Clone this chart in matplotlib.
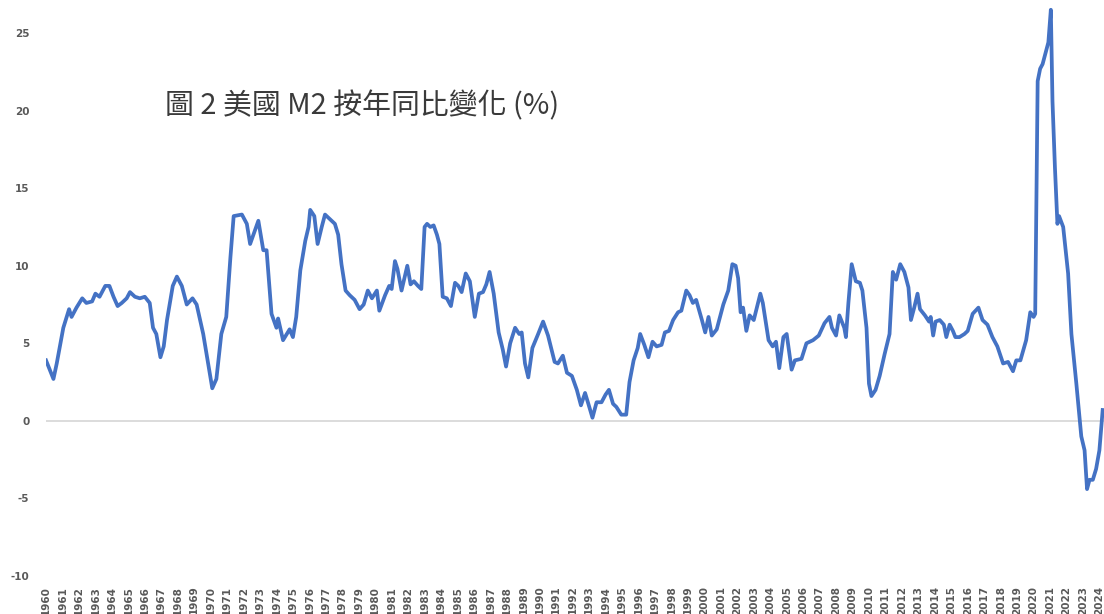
import matplotlib.pyplot as plt
import numpy as np

# US M2 year-on-year change (%)
years = [1960.0, 1960.45, 1960.65, 1961.05, 1961.4, 1961.55, 1961.85, 1962.2, 1962.45, 1962.8,
         1963.0, 1963.25, 1963.6, 1963.85, 1964.1, 1964.35, 1964.6, 1964.9, 1965.1, 1965.4,
         1965.7, 1966.0, 1966.3, 1966.5, 1966.7, 1966.95, 1967.15, 1967.35, 1967.7, 1967.95,
         1968.25, 1968.55, 1968.9, 1969.15, 1969.55, 1969.85, 1970.1, 1970.35, 1970.65, 1970.95,
         1971.2, 1971.4, 1971.9, 1972.2, 1972.4, 1972.9, 1973.2, 1973.4, 1973.7, 1974.0,
         1974.1, 1974.4, 1974.8, 1975.0, 1975.2, 1975.45, 1975.75, 1975.95, 1976.05, 1976.3,
         1976.5, 1976.75, 1976.95, 1977.25, 1977.55, 1977.75, 1977.95, 1978.2, 1978.45, 1978.75,
         1979.05, 1979.3, 1979.55, 1979.8, 1980.1, 1980.25, 1980.6, 1980.85, 1981.0, 1981.2,
         1981.35, 1981.6, 1981.95, 1982.15, 1982.35, 1982.6, 1982.8, 1983.0, 1983.15, 1983.35,
         1983.55, 1983.75, 1983.9, 1984.1, 1984.35, 1984.6, 1984.85, 1985.05, 1985.25, 1985.5,
         1985.75, 1986.05, 1986.3, 1986.55, 1986.75, 1986.95, 1987.2, 1987.5, 1987.75, 1987.95,
         1988.2, 1988.5, 1988.75, 1988.9, 1989.1, 1989.3, 1989.55, 1989.9, 1990.2, 1990.5,
         1990.9, 1991.1, 1991.4, 1991.65, 1991.95, 1992.25, 1992.5, 1992.75, 1992.95, 1993.2,
         1993.45, 1993.75, 1994.0, 1994.2, 1994.45, 1994.65, 1994.95, 1995.25, 1995.45, 1995.7,
         1995.95, 1996.1, 1996.35, 1996.6, 1996.85, 1997.1, 1997.4, 1997.6, 1997.85, 1998.1,
         1998.4, 1998.6, 1998.9, 1999.1, 1999.3, 1999.5, 1999.85, 2000.05, 2000.25, 2000.45,
         2000.75, 2001.15, 2001.45, 2001.7, 2001.9, 2002.05, 2002.2, 2002.35, 2002.55, 2002.75,
         2003.0, 2003.4, 2003.55, 2003.9, 2004.15, 2004.35, 2004.55, 2004.8, 2005.0, 2005.3,
         2005.5, 2005.9, 2006.2, 2006.6, 2006.95, 2007.3, 2007.6, 2007.75, 2008.0, 2008.2,
         2008.5, 2008.6, 2008.75, 2008.95, 2009.2, 2009.45, 2009.6, 2009.85, 2010.0, 2010.15,
         2010.4, 2010.65, 2010.95, 2011.25, 2011.45, 2011.65, 2011.9, 2012.15, 2012.4, 2012.55,
         2012.75, 2012.95, 2013.1, 2013.4, 2013.65, 2013.75, 2013.9, 2014.05, 2014.3, 2014.55,
         2014.7, 2014.9, 2015.1, 2015.25, 2015.5, 2015.8, 2016.0, 2016.3, 2016.65, 2016.9,
         2017.2, 2017.5, 2017.8, 2018.15, 2018.45, 2018.75, 2018.95, 2019.2, 2019.55, 2019.8,
         2020.0, 2020.1, 2020.25, 2020.4, 2020.55, 2020.7, 2020.9, 2021.05, 2021.15, 2021.3,
         2021.45, 2021.55, 2021.8, 2022.1, 2022.3, 2022.6, 2022.9, 2023.1, 2023.25, 2023.4,
         2023.6, 2023.8, 2024.0, 2024.2]
m2_yoy = [3.9, 2.7, 3.7, 6.0, 7.2, 6.7, 7.3, 7.9, 7.6, 7.7,
          8.2, 8.0, 8.7, 8.7, 8.0, 7.4, 7.6, 7.9, 8.3, 8.0,
          7.9, 8.0, 7.6, 6.0, 5.6, 4.1, 4.8, 6.5, 8.7, 9.3,
          8.7, 7.5, 7.9, 7.5, 5.6, 3.7, 2.1, 2.7, 5.6, 6.7,
          10.5, 13.2, 13.3, 12.7, 11.4, 12.9, 11.0, 11.0, 6.9, 6.0,
          6.6, 5.2, 5.9, 5.4, 6.7, 9.7, 11.6, 12.5, 13.6, 13.2,
          11.4, 12.5, 13.3, 13.0, 12.7, 12.0, 10.1, 8.4, 8.1, 7.8,
          7.2, 7.5, 8.4, 7.9, 8.4, 7.1, 8.1, 8.7, 8.5, 10.3,
          9.8, 8.4, 10.0, 8.8, 9.0, 8.7, 8.5, 12.5, 12.7, 12.5,
          12.6, 12.0, 11.4, 8.0, 7.9, 7.4, 8.9, 8.7, 8.3, 9.5,
          9.0, 6.7, 8.2, 8.3, 8.8, 9.6, 8.2, 5.7, 4.6, 3.5,
          5.0, 6.0, 5.6, 5.7, 3.7, 2.8, 4.7, 5.6, 6.4, 5.5,
          3.8, 3.7, 4.2, 3.1, 2.9, 2.0, 1.0, 1.8, 1.1, 0.2,
          1.2, 1.2, 1.7, 2.0, 1.1, 0.9, 0.4, 0.4, 2.5, 3.9,
          4.7, 5.6, 4.9, 4.1, 5.1, 4.8, 4.9, 5.7, 5.8, 6.5,
          7.0, 7.1, 8.4, 8.1, 7.6, 7.8, 6.5, 5.7, 6.7, 5.5,
          5.9, 7.5, 8.4, 10.1, 10.0, 9.2, 7.0, 7.3, 5.8, 6.8,
          6.5, 8.2, 7.6, 5.2, 4.8, 5.1, 3.4, 5.4, 5.6, 3.3,
          3.9, 4.0, 5.0, 5.2, 5.5, 6.3, 6.7, 6.0, 5.5, 6.8,
          6.0, 5.4, 7.6, 10.1, 9.0, 8.9, 8.4, 6.0, 2.4, 1.6,
          2.0, 2.9, 4.3, 5.6, 9.6, 9.1, 10.1, 9.6, 8.6, 6.5,
          7.3, 8.2, 7.2, 6.8, 6.4, 6.7, 5.5, 6.4, 6.5, 6.2,
          5.4, 6.2, 5.8, 5.4, 5.4, 5.6, 5.8, 6.9, 7.3, 6.5,
          6.2, 5.4, 4.8, 3.7, 3.8, 3.2, 3.9, 3.9, 5.2, 7.0,
          6.7, 6.9, 21.9, 22.7, 23.0, 23.6, 24.4, 26.5, 20.6, 16.3,
          12.7, 13.2, 12.5, 9.5, 5.6, 2.4, -1.0, -1.9, -4.4, -3.8,
          -3.8, -3.1, -1.9, 0.7]

tick_years = list(range(1960, 2025))
y_ticks = [-10, -5, 0, 5, 10, 15, 20, 25]

plt.rcParams['font.family'] = ['Noto Sans CJK TC', 'DejaVu Sans']

fig = plt.figure(figsize=(11.04, 6.14), dpi=100)
ax = fig.add_axes([0.0417, 0.0619, 0.9583, 0.9381])

ax.axhline(0, color='#d9d9d9', linewidth=1.3, zorder=1)
ax.plot(years, m2_yoy, color='#4472c4', linewidth=2.7, solid_joinstyle='round', zorder=2)

ax.set_xlim(1960, 2024.28)
ax.set_ylim(-10, 27.13)

ax.set_xticks(tick_years)
ax.set_xticklabels([str(y) for y in tick_years], rotation=90, fontsize=7.5,
                   color='#595959', fontweight='bold', family='Liberation Sans Narrow')
ax.set_yticks(y_ticks)
ax.set_yticklabels([str(v) for v in y_ticks], fontsize=7.5, color='#595959',
                   fontweight='bold', family='DejaVu Sans')
ax.tick_params(axis='both', length=0)
ax.tick_params(axis='x', pad=7)
ax.tick_params(axis='y', pad=12)

for s in ax.spines.values():
    s.set_visible(False)

ax.text(1967.2, 20.3, '圖 2 美國 M2 按年同比變化 (%)', fontsize=20.8, color='#3a3a3a',
        fontweight='light', va='center', ha='left')

plt.savefig('out.png', dpi=100)
